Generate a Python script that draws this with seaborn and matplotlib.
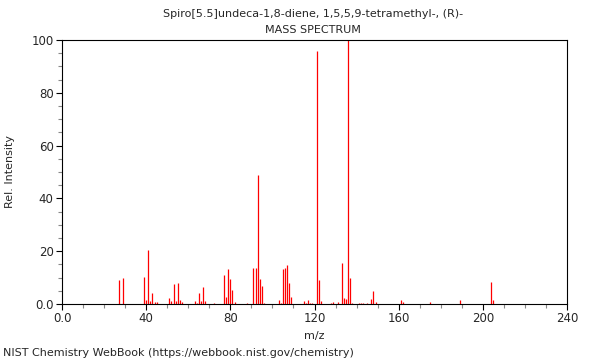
import matplotlib
matplotlib.use("Agg")
import matplotlib.pyplot as plt
from matplotlib.ticker import MultipleLocator, FixedLocator
import seaborn as sns
import pandas as pd

# ==================================================
# DATA
# ==================================================
mz = [27, 29, 39, 40, 41, 42, 43, 44, 45, 51, 52, 53, 54, 55, 56, 57,
      63, 64, 65, 66, 67, 68, 72, 77, 78, 79, 80, 81, 82, 88,
      91, 92, 93, 94, 95, 96, 103, 104, 105, 106, 107, 108, 109,
      115, 116, 117, 118, 119, 121, 122, 123, 128, 129, 131,
      133, 134, 135, 136, 137, 138, 141, 142, 143, 145,
      147, 148, 149, 161, 162, 175, 189, 204, 205]
intensity = [9.2, 10.0, 10.2, 1.6, 20.6, 1.0, 4.3, 0.6, 0.9, 2.4, 1.3, 7.7, 1.0, 7.8, 1.6, 0.9,
             1.1, 0.5, 4.0, 1.1, 6.6, 1.0, 0.4, 11.1, 2.7, 13.3, 9.6, 5.2, 0.9, 0.4,
             13.5, 13.8, 48.7, 9.6, 6.8, 0.5, 1.5, 0.4, 13.1, 13.5, 14.6, 8.1, 2.8,
             1.0, 0.5, 1.5, 0.5, 0.5, 95.7, 9.1, 1.1, 0.5, 0.8, 0.9,
             15.4, 2.3, 1.8, 100.0, 10.0, 0.4, 0.3, 0.3, 0.3, 0.3,
             1.8, 5.1, 0.8, 1.6, 0.8, 0.6, 1.5, 8.2, 1.4]

x_ticks = [0, 40, 80, 120, 160, 200, 240]
x_labels = ["0.0", "40", "80", "120", "160", "200", "240"]
y_ticks = [0, 20, 40, 60, 80, 100]
y_labels = ["0.0", "20", "40", "60", "80", "100"]

title_1 = "Spiro[5.5]undeca-1,8-diene, 1,5,5,9-tetramethyl-, (R)-"
title_2 = "MASS SPECTRUM"
footer = "NIST Chemistry WebBook (https://webbook.nist.gov/chemistry)"

df = pd.DataFrame({"mz": mz, "intensity": intensity})

# ==================================================
# STYLE
# ==================================================
sns.set_theme(style="ticks")
plt.rcParams["font.family"] = ["DejaVu Sans"]

fig = plt.figure(figsize=(6, 3.6), dpi=100)
ax = fig.add_axes([62 / 600, 1 - 304 / 360, 505 / 600, 264 / 360])

# ==================================================
# STICK SPECTRUM
# ==================================================
ax.vlines(df["mz"], 0, df["intensity"], color="#ff0000", linewidth=0.9)

ax.set_xlim(0, 240)
ax.set_ylim(0, 100)

ax.xaxis.set_major_locator(FixedLocator(x_ticks))
ax.set_xticklabels(x_labels)
ax.xaxis.set_minor_locator(MultipleLocator(10))
ax.yaxis.set_major_locator(FixedLocator(y_ticks))
ax.set_yticklabels(y_labels)
ax.yaxis.set_minor_locator(MultipleLocator(5))

ax.tick_params(which="major", direction="out", length=4, width=0.8,
               color="black", labelsize=8.5, pad=2)
ax.tick_params(which="minor", direction="out", length=3, width=0.8,
               color="#888888")

for side in ["top", "right", "bottom", "left"]:
    ax.spines[side].set_visible(True)
    ax.spines[side].set_color("black")
    ax.spines[side].set_linewidth(0.8)

ax.set_xlabel("m/z", fontsize=8, labelpad=4)
ax.set_ylabel("Rel. Intensity", fontsize=8, labelpad=12)

fig.text(0.522, 1 - 14 / 360, title_1, ha="center", va="center", fontsize=8)
fig.text(0.522, 1 - 30 / 360, title_2, ha="center", va="center", fontsize=8)
fig.text(3 / 600, 1 - 353 / 360, footer, ha="left", va="center", fontsize=8)

fig.savefig("out.png", dpi=100)
plt.close(fig)
